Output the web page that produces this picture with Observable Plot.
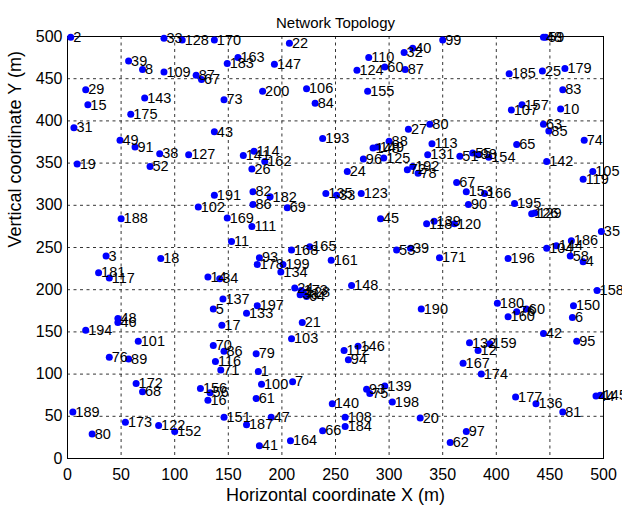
<!DOCTYPE html>
<html><head><meta charset="utf-8">
<script src="https://cdn.jsdelivr.net/npm/d3@7"></script>
<script src="https://cdn.jsdelivr.net/npm/@observablehq/plot@0.6"></script>
<style>body{margin:0;background:#fff;} svg{font-family:"Liberation Sans",Arial,sans-serif;}</style>
</head><body><div id="chart"></div>
<script>
const titleText = "Network Topology";
const xLabelText = "Horizontal coordinate X (m)";
const yLabelText = "Vertical coordinate Y (m)";
const xTicks = [0,50,100,150,200,250,300,350,400,450,500];
const yTicks = [0,50,100,150,200,250,300,350,400,450,500];

const nodeLabels = [
"2","33","128","39","8","109","87","67","29","15","143","175","31","49","91","38","127","19","52",
"170","22","163","183","147","200","106","84","73","43","193","114","141","162","26",
"99","40","32","110","60","87","124","155","80","27","88","148","149","96","125","113","131","51","24","192","72","78",
"48","59","185","25","179","83","157","107","10","63","85","74","65","55","98","154","142","105",
"188","3","18","181","117","102","48","46",
"191","82","182","86","69","169","111","11","168","165","161","93","178","199","134","14","34",
"24","173","128","38","64","137","5","197","133","21","17",
"67","153","90","135","33","123","45","118","139","120","53","39","171","148","190",
"119","166","195","126","129","35","104","144","186","58","4","196","158","180","60","76","160","150","6",
"194","101","76","89","172","68","189","173","122","152","80",
"103","70","86","79","116","71","1","7","100","156","56","16","61","151","47","187","41","164","66",
"140","112","146","94","93","75","139","198","108","184","20","62","97",
"132","159","12","167","42","95","174","177","136","81","44","145"
];
const nodeX = [
3,90,107,57,70,90,120,125,17,19,72,59,6,49,63,86,113,9,77,
137,207,159,149,193,182,223,231,146,137,238,174,164,184,172,
350,322,314,281,296,315,270,280,338,318,300,285,289,276,295,340,336,366,261,322,317,327,
444,446,412,443,464,462,424,414,460,444,449,482,419,378,383,393,447,490,
50,36,87,29,39,122,47,47,
137,173,189,173,205,149,172,153,209,226,246,179,177,201,199,131,142,
212,218,220,217,223,145,136,177,167,219,144,
363,372,374,241,251,274,292,335,342,361,307,320,347,265,330,
481,389,417,433,436,498,447,456,470,469,481,411,494,401,428,419,411,472,471,
17,66,39,57,64,70,5,54,85,100,23,
209,136,146,176,138,143,178,210,181,124,133,131,176,146,190,167,179,208,238,
247,258,271,262,279,282,296,303,259,259,329,357,372,
375,394,383,369,444,475,386,418,437,462,493,497
];
const nodeY = [
499,498,496,471,461,458,454,449,437,419,427,408,392,377,369,361,360,349,346,
496,492,475,468,467,435,438,421,425,387,379,364,359,352,343,
496,486,481,475,464,461,460,435,396,390,376,368,369,355,356,373,360,358,340,346,342,338,
499,499,456,459,462,437,419,413,414,396,388,377,372,362,360,357,352,340,
284,240,237,220,214,298,166,161,
312,316,310,301,297,285,275,257,247,251,235,238,230,230,221,215,213,
202,199,197,194,192,189,177,181,172,161,158,
327,316,301,314,312,314,284,278,281,278,247,249,238,205,177,
331,314,302,290,291,269,249,252,258,240,233,237,199,184,177,174,168,181,167,
152,139,120,118,89,79,55,43,39,32,29,
142,134,127,124,115,105,103,91,88,83,78,69,71,49,49,40,15,21,33,
65,128,133,117,82,77,86,67,49,38,48,19,32,
137,136,128,113,148,139,100,73,65,55,74,75
];

const nodes = nodeLabels.map((id, i) => ({id, x: nodeX[i], y: nodeY[i]}));

const chart = Plot.plot({
  width: 622, height: 513,
  marginLeft: 67, marginRight: 19, marginTop: 36, marginBottom: 55,
  style: {fontFamily: '"Liberation Sans", Arial, sans-serif', fontSize: "16px", background: "white", color: "black"},
  x: {domain: [0, 500]},
  y: {domain: [0, 500]},
  marks: [
    Plot.gridX(xTicks, {stroke: "black", strokeOpacity: 1, strokeWidth: 0.8, strokeDasharray: "3,3.5"}),
    Plot.gridY(yTicks, {stroke: "black", strokeOpacity: 1, strokeWidth: 0.8, strokeDasharray: "3,3.5"}),
    Plot.axisX(xTicks, {tickSize: 0, tickPadding: 10, label: null, fontSize: 16}),
    Plot.axisY(yTicks, {tickSize: 0, tickPadding: 5, label: null, fontSize: 16}),
    Plot.frame({stroke: "black", strokeWidth: 1}),
    Plot.dot(nodes, {x: "x", y: "y", r: 3.5, fill: "#0000ff", stroke: null}),
    Plot.text(nodes, {x: "x", y: "y", text: "id", textAnchor: "start", dx: 2.5, fontSize: 14.5, fill: "black"}),
    Plot.text([titleText], {frameAnchor: "top", dy: -19, fontSize: 15, fill: "black"}),
    Plot.text([xLabelText], {frameAnchor: "bottom", dy: 42, fontSize: 18, fill: "black"}),
    Plot.text([yLabelText], {frameAnchor: "left", dx: -52, rotate: -90, fontSize: 18, fill: "black"})
  ]
});
document.getElementById("chart").append(chart);
</script>
</body></html>
